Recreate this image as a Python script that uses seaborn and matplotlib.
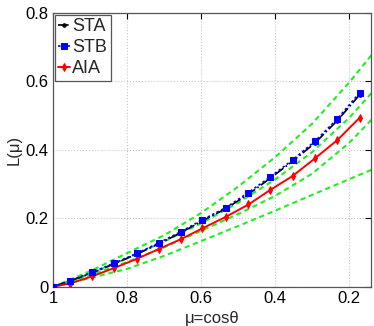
import matplotlib
matplotlib.use("Agg")
import matplotlib.pyplot as plt
import seaborn as sns
import pandas as pd

mu = [1.0, 0.955, 0.895, 0.836, 0.774, 0.714, 0.654, 0.597, 0.533, 0.472, 0.414, 0.353, 0.292, 0.232, 0.172]
sta = [0, 0.016, 0.040, 0.066, 0.095, 0.125, 0.158, 0.192, 0.228, 0.270, 0.316, 0.366, 0.420, 0.485, 0.560]
stb = [0, 0.017, 0.042, 0.068, 0.097, 0.128, 0.161, 0.195, 0.231, 0.275, 0.320, 0.370, 0.425, 0.490, 0.566]
aia = [0, 0.009, 0.030, 0.054, 0.081, 0.110, 0.139, 0.170, 0.204, 0.240, 0.282, 0.323, 0.375, 0.428, 0.493]

# green reference curves
mu_ref = [1.0, 0.9, 0.8, 0.7, 0.6, 0.5, 0.4, 0.3, 0.2, 0.14]
ref1 = [0, 0.045, 0.098, 0.150, 0.215, 0.292, 0.378, 0.476, 0.596, 0.676]
ref2 = [0, 0.038, 0.083, 0.132, 0.185, 0.245, 0.313, 0.393, 0.493, 0.565]
ref3 = [0, 0.033, 0.072, 0.115, 0.163, 0.212, 0.265, 0.330, 0.420, 0.487]
ref4 = [0, 0.025, 0.052, 0.090, 0.133, 0.177, 0.222, 0.268, 0.314, 0.341]

x_ticks = [1, 0.8, 0.6, 0.4, 0.2]
x_labels = ["1", "0.8", "0.6", "0.4", "0.2"]
y_ticks = [0, 0.2, 0.4, 0.6, 0.8]
y_labels = ["0", "0.2", "0.4", "0.6", "0.8"]

sns.set_style("white")
plt.rcParams['font.family'] = ['Liberation Sans', 'DejaVu Sans']

df = pd.DataFrame({"mu": mu, "STA": sta, "STB": stb, "AIA": aia})
ref = pd.DataFrame({"mu": mu_ref, "r1": ref1, "r2": ref2, "r3": ref3, "r4": ref4})

fig = plt.figure(figsize=(3.74, 3.26), dpi=100)
ax = fig.add_axes([0.1417, 0.1206, 0.8503, 0.8404])

for col in ["r1", "r2", "r3", "r4"]:
    sns.lineplot(data=ref, x="mu", y=col, ax=ax, color="#22ee22", lw=1.5,
                 dashes=False, linestyle=(0, (2.5, 1.8)), legend=False, zorder=2)

sns.lineplot(data=df, x="mu", y="STA", ax=ax, color="black", lw=1.2,
             linestyle="-.", marker="o", markersize=2.5, markeredgecolor="black",
             label="STA", zorder=3)
sns.lineplot(data=df, x="mu", y="STB", ax=ax, color="blue", lw=1.2,
             linestyle=(0, (1.5, 1.5)), marker="s", markersize=4.5,
             markeredgecolor="blue", label="STB", zorder=4)
sns.lineplot(data=df, x="mu", y="AIA", ax=ax, color="red", lw=1.4,
             linestyle="-", marker="d", markersize=4, markeredgecolor="red",
             label="AIA", zorder=3)

ax.set_xlim(1, 0.141)
ax.set_ylim(0, 0.8)
ax.set_xticks(x_ticks)
ax.set_xticklabels(x_labels)
ax.set_yticks(y_ticks)
ax.set_yticklabels(y_labels)
ax.tick_params(direction="in", length=4, width=0.8, labelsize=12, colors="black",
               top=True, right=True, pad=3)
ax.grid(True, linestyle=":", color="#c8c8c8", lw=0.8)
for s in ax.spines.values():
    s.set_color("#555555")
    s.set_linewidth(0.9)

ax.set_xlabel("μ=cosθ", fontsize=12, labelpad=4)
ax.set_ylabel("L(μ)", fontsize=12, labelpad=3)

leg = ax.legend(loc="upper left", fontsize=13, handlelength=0.65, handletextpad=0.12,
                borderpad=0.2, labelspacing=0.22, borderaxespad=0.1, fancybox=False,
                framealpha=1)
leg.get_frame().set_edgecolor("#555555")
leg.get_frame().set_linewidth(0.9)

fig.savefig("out.png", dpi=100)
